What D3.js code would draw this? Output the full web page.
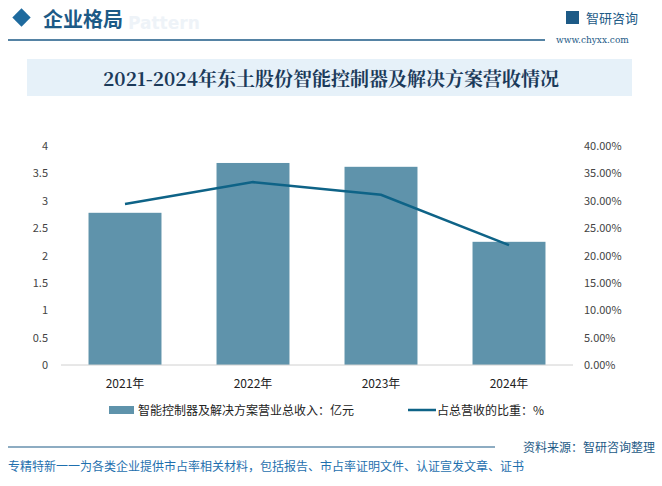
<!DOCTYPE html>
<html><head><meta charset="utf-8">
<script src="https://cdn.jsdelivr.net/npm/d3@7"></script>
<style>
body{margin:0;background:#fff;font-family:"Noto Sans CJK SC","Noto Sans",sans-serif;}
</style></head>
<body>
<script>
var years = ["2021年","2022年","2023年","2024年"];
var revenue = [2.78, 3.69, 3.62, 2.25];
var share = [29.4, 33.4, 31.1, 21.9];
var leftTicks = [0,0.5,1,1.5,2,2.5,3,3.5,4];
var rightTicks = [0,5,10,15,20,25,30,35,40];

var W = 662, H = 486;
var svg = d3.select("body").append("svg").attr("width", W).attr("height", H);
var font = "Noto Sans CJK SC";

// header
svg.append("rect").attr("x",15).attr("y",11).attr("width",13).attr("height",13)
  .attr("transform","rotate(45 21.5 17.5)").attr("fill","#1e6a9e");
svg.append("text").attr("x",43).attr("y",27).attr("font-size",20).attr("font-weight","bold")
  .attr("fill","#1d5a86").attr("font-family",font).text("企业格局");
svg.append("text").attr("x",128).attr("y",29).attr("font-size",17).attr("font-weight","bold")
  .attr("fill","#eef3f8").attr("font-family","DejaVu Sans").text("Pattern");
svg.append("line").attr("x1",8).attr("x2",545).attr("y1",40).attr("y2",40)
  .attr("stroke","#1d5a86").attr("stroke-width",1.5);
svg.append("text").attr("x",586).attr("y",23).attr("font-size",13).attr("fill","#1d5a86")
  .attr("font-family",font).text("智研咨询");
svg.append("rect").attr("x",566).attr("y",11).attr("width",13).attr("height",13).attr("fill","#1d5a86");
svg.append("text").attr("x",556).attr("y",43).attr("font-size",9).attr("fill","#1d5a86")
  .attr("font-family","DejaVu Serif").text("www.chyxx.com");

// title
svg.append("rect").attr("x",27).attr("y",59).attr("width",605).attr("height",37).attr("fill","#e6f1f9");
svg.append("text").attr("x",331).attr("y",86).attr("text-anchor","middle").attr("font-size",19)
  .attr("font-weight","bold").attr("fill","#1b3a5a").attr("font-family","Noto Serif CJK SC, "+font)
  .text("2021-2024年东土股份智能控制器及解决方案营收情况");

// chart
var x = d3.scaleBand().domain(years).range([61,573]).paddingInner(0.43).paddingOuter(0.215);
var y = d3.scaleLinear().domain([0,4]).range([365,146]);
var y2 = d3.scaleLinear().domain([0,40]).range([365,146]);

svg.selectAll(".bar").data(revenue).enter().append("rect")
  .attr("x",function(d,i){return x(years[i]);})
  .attr("y",function(d){return y(d);})
  .attr("width",x.bandwidth())
  .attr("height",function(d){return y(0)-y(d);})
  .attr("fill","#5f93ab");

var line = d3.line().x(function(d,i){return x(years[i])+x.bandwidth()/2;}).y(function(d){return y2(d);});
svg.append("path").attr("d",line(share)).attr("fill","none").attr("stroke","#0e6387").attr("stroke-width",2.5);

svg.append("line").attr("x1",61).attr("x2",573).attr("y1",365).attr("y2",365).attr("stroke","#d0d0d0");

svg.selectAll(".lt").data(leftTicks).enter().append("text")
  .attr("x",48).attr("y",function(d){return y(d)+4;}).attr("text-anchor","end")
  .attr("font-size",11).attr("fill","#444").attr("font-family",font).text(function(d){return d;});
svg.selectAll(".rt").data(rightTicks).enter().append("text")
  .attr("x",584).attr("y",function(d){return y2(d)+4;})
  .attr("font-size",11).attr("fill","#444").attr("font-family",font).text(function(d){return d.toFixed(2)+"%";});
svg.selectAll(".xt").data(years).enter().append("text")
  .attr("x",function(d){return x(d)+x.bandwidth()/2;}).attr("y",388).attr("text-anchor","middle")
  .attr("font-size",12).attr("fill","#222").attr("font-family",font).text(function(d){return d;});

// legend
svg.append("rect").attr("x",109).attr("y",406).attr("width",25).attr("height",8).attr("fill","#5f93ab");
svg.append("text").attr("x",138).attr("y",415).attr("font-size",12).attr("fill","#222").attr("font-family",font)
  .text("智能控制器及解决方案营业总收入：亿元");
svg.append("line").attr("x1",408).attr("x2",436).attr("y1",410).attr("y2",410).attr("stroke","#0e6387").attr("stroke-width",2.5);
svg.append("text").attr("x",437).attr("y",415).attr("font-size",12).attr("fill","#222").attr("font-family",font)
  .text("占总营收的比重：%");

// footer
svg.append("line").attr("x1",8).attr("x2",495).attr("y1",447).attr("y2",447).attr("stroke","#1d5a86").attr("stroke-width",1.2);
svg.append("text").attr("x",655).attr("y",452).attr("text-anchor","end").attr("font-size",12).attr("fill","#1d5a86")
  .attr("font-family",font).text("资料来源：智研咨询整理");
svg.append("text").attr("x",8).attr("y",471).attr("font-size",12).attr("fill","#1e6fae")
  .attr("font-family",font).text("专精特新一一为各类企业提供市占率相关材料，包括报告、市占率证明文件、认证宣发文章、证书");
</script>
</body></html>
